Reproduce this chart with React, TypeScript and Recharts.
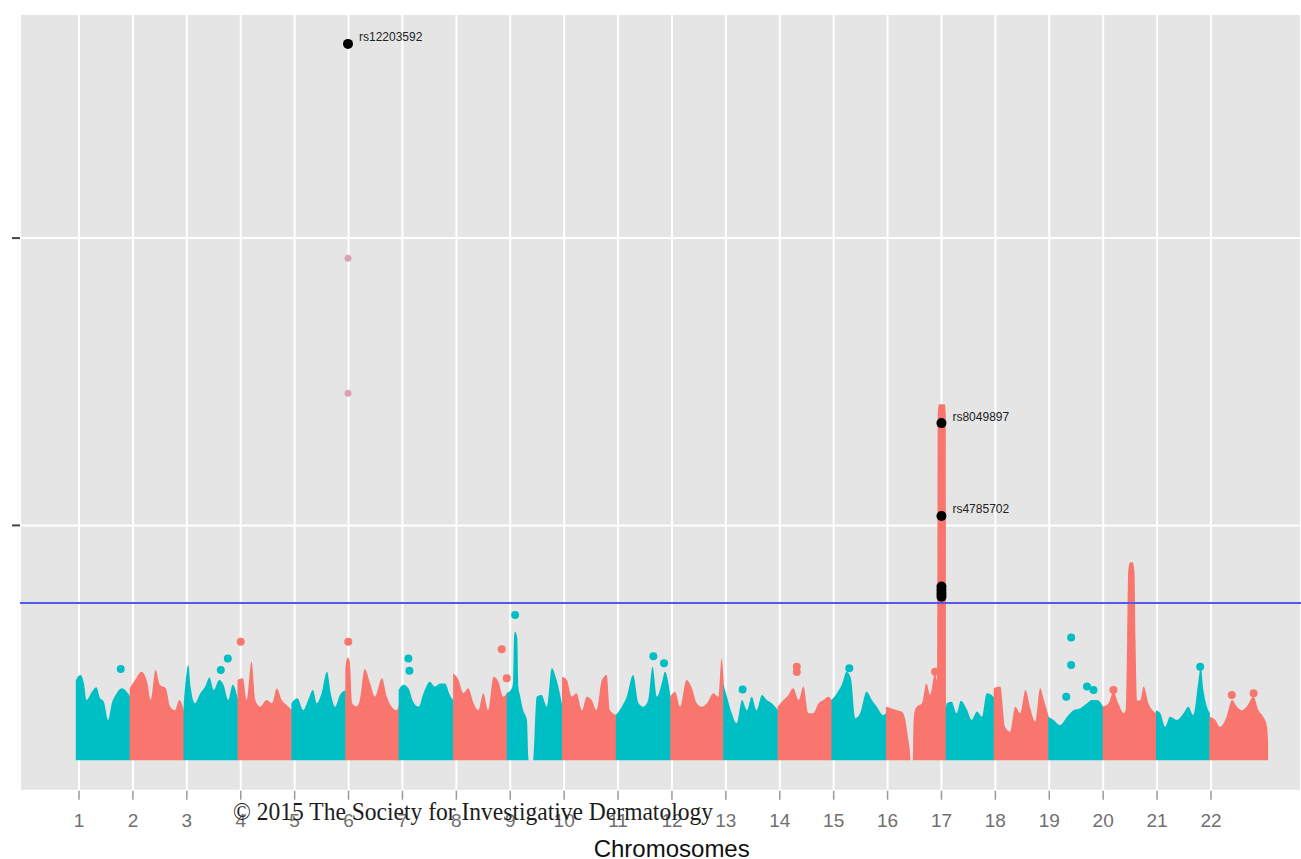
import React from "react";
import {
  ComposedChart,
  CartesianGrid,
  XAxis,
  YAxis,
  Area,
  Scatter,
  ReferenceLine,
} from "recharts";

const TEAL = "#00BFC4";
const RED = "#F8766D";
const SANS = "'Liberation Sans', Arial, sans-serif";
const SERIF = "'Liberation Serif', 'Times New Roman', serif";

const chromTicks = [1, 2, 3, 4, 5, 6, 7, 8, 9, 10, 11, 12, 13, 14, 15, 16, 17, 18, 19, 20, 21, 22];
const yTicks = [10, 20];
const threshold = 7.3; // -log10(5e-8)
const cloudBase = 1.83;

// top edge of the dense SNP cloud: [offset from chromosome tick, -log10(p)]
const chr1 = [[-0.06, 4.6], [-0.04, 4.68], [0.03, 4.79], [0.09, 4.51], [0.14, 3.92], [0.24, 4.21], [0.32, 4.37], [0.39, 3.99], [0.46, 3.86], [0.54, 3.23], [0.61, 3.82], [0.7, 4.16], [0.79, 4.33], [0.885, 4.21], [0.95, 4.04]];
const chr2 = [[-0.06, 4.33], [0.04, 4.62], [0.16, 4.91], [0.27, 4.5], [0.33, 3.92], [0.42, 4.97], [0.5, 4.45], [0.61, 4.33], [0.69, 3.69], [0.78, 3.57], [0.86, 3.92], [0.95, 3.52]];
const chr3 = [[-0.06, 3.69], [0.03, 5.14], [0.07, 4.39], [0.15, 3.81], [0.25, 4.16], [0.34, 4.39], [0.42, 4.71], [0.5, 4.27], [0.6, 4.62], [0.68, 4.45], [0.77, 3.92], [0.85, 4.45], [0.95, 3.92]];
const chr4 = [[-0.06, 4.62], [0.04, 4.68], [0.11, 3.92], [0.2, 5.26], [0.27, 3.92], [0.36, 3.69], [0.48, 3.92], [0.58, 3.81], [0.67, 4.33], [0.76, 3.92], [0.85, 3.75], [0.95, 3.57]];
const chr5 = [[-0.06, 3.81], [0.05, 3.98], [0.16, 3.57], [0.25, 3.92], [0.34, 4.27], [0.41, 3.81], [0.5, 4.16], [0.6, 4.91], [0.67, 4.16], [0.75, 3.69], [0.84, 4.1], [0.95, 4.27]];
const chr6 = [[-0.06, 5.0], [-0.02, 5.4], [0.02, 5.3], [0.07, 3.8], [0.15, 3.7], [0.21, 3.92], [0.3, 5.0], [0.4, 4.5], [0.49, 4.04], [0.62, 4.68], [0.71, 4.04], [0.8, 3.69], [0.89, 3.57], [0.95, 3.9]];
const chr7 = [[-0.07, 4.27], [0.02, 4.45], [0.11, 4.33], [0.2, 3.86], [0.3, 3.69], [0.39, 4.16], [0.51, 4.56], [0.6, 4.39], [0.7, 4.5], [0.79, 4.5], [0.88, 4.1], [0.95, 3.9]];
const chr8 = [[-0.06, 4.85], [0.04, 4.62], [0.13, 4.16], [0.22, 4.33], [0.32, 3.81], [0.41, 3.57], [0.5, 4.16], [0.59, 3.57], [0.69, 4.73], [0.78, 4.56], [0.87, 4.04], [0.95, 4.2]];
const chr9 = [[-0.065, 4.16], [0.03, 4.33], [0.055, 4.6], [0.07, 6.1], [0.09, 6.3], [0.13, 6.1], [0.15, 4.4], [0.18, 4.1], [0.24, 3.57], [0.31, 3.23], [0.335, 1.95], [0.34, 1.83], [0.425, 1.83], [0.43, 1.95], [0.49, 4.04], [0.58, 4.1], [0.68, 3.69], [0.77, 5.03], [0.86, 4.62], [0.97, 3.69]];
const chr10 = [[-0.04, 4.73], [0.05, 4.62], [0.14, 4.04], [0.23, 4.16], [0.33, 3.57], [0.42, 4.04], [0.51, 3.92], [0.6, 3.57], [0.7, 4.62], [0.79, 4.79], [0.85, 3.57], [0.97, 3.4]];
const chr11 = [[-0.04, 3.4], [0.07, 3.69], [0.16, 4.04], [0.28, 4.79], [0.38, 3.81], [0.47, 3.69], [0.56, 3.92], [0.64, 5.08], [0.72, 4.04], [0.81, 4.5], [0.87, 4.91], [0.98, 3.98]];
const chr12 = [[-0.03, 4.04], [0.06, 4.21], [0.15, 3.69], [0.27, 4.62], [0.37, 4.33], [0.46, 3.81], [0.55, 3.69], [0.65, 3.81], [0.77, 4.16], [0.86, 4.04], [0.92, 5.37], [0.96, 4.5]];
const chr13 = [[-0.05, 4.5], [0.02, 4.04], [0.11, 3.46], [0.2, 3.11], [0.3, 3.92], [0.39, 3.57], [0.48, 4.04], [0.57, 3.57], [0.67, 4.1], [0.76, 3.92], [0.85, 3.81], [0.97, 3.57]];
const chr14 = [[-0.04, 3.69], [0.07, 3.92], [0.16, 4.1], [0.25, 4.33], [0.35, 3.92], [0.44, 4.39], [0.53, 3.46], [0.62, 3.46], [0.72, 3.81], [0.81, 3.92], [0.9, 4.04], [0.97, 3.9]];
const chr15 = [[-0.04, 3.92], [0.06, 4.16], [0.15, 4.45], [0.24, 4.91], [0.32, 4.68], [0.4, 3.29], [0.49, 3.46], [0.61, 4.21], [0.71, 3.92], [0.8, 3.69], [0.92, 3.4], [0.98, 3.5]];
const chr16 = [[-0.03, 3.69], [0.08, 3.63], [0.17, 3.57], [0.26, 3.52], [0.33, 3.23], [0.38, 2.6], [0.42, 2.0], [0.425, 1.83], [0.47, 1.83], [0.475, 2.5], [0.49, 3.4], [0.54, 3.69], [0.64, 3.81], [0.72, 4.5], [0.79, 4.1], [0.88, 4.85], [0.92, 4.6], [0.93, 13.9], [0.955, 14.22], [1.06, 14.22], [1.08, 13.9], [1.085, 3.6]];
const chr17 = [[0.08, 3.6], [0.1, 3.81], [0.19, 3.86], [0.28, 3.46], [0.36, 3.9], [0.47, 3.6], [0.56, 3.23], [0.66, 3.52], [0.75, 3.34], [0.84, 4.16], [0.93, 4.1], [0.98, 4.0]];
const chr18 = [[-0.03, 4.33], [0.09, 4.39], [0.18, 2.99], [0.27, 2.82], [0.37, 3.69], [0.46, 3.46], [0.56, 4.27], [0.64, 3.69], [0.74, 3.17], [0.83, 4.33], [0.9, 3.92], [0.99, 3.34]];
const chr19 = [[-0.02, 3.34], [0.08, 3.23], [0.2, 3.05], [0.33, 3.34], [0.45, 3.57], [0.57, 3.63], [0.7, 3.81], [0.79, 3.92], [0.89, 3.92], [1.0, 3.69]];
const chr20 = [[-0.01, 3.69], [0.1, 3.81], [0.19, 4.21], [0.28, 3.81], [0.38, 3.46], [0.42, 3.6], [0.445, 6.0], [0.465, 8.4], [0.5, 8.72], [0.545, 8.72], [0.58, 8.4], [0.6, 6.0], [0.63, 3.9], [0.69, 3.92], [0.75, 4.39], [0.84, 3.81], [0.99, 3.46]];
const chr21 = [[-0.02, 3.57], [0.06, 3.46], [0.15, 2.99], [0.24, 3.34], [0.37, 3.23], [0.49, 3.46], [0.58, 3.69], [0.67, 3.4], [0.77, 4.62], [0.81, 5.08], [0.86, 4.27], [0.98, 3.46]];
const chr22 = [[-0.03, 3.34], [0.08, 3.23], [0.17, 2.99], [0.29, 3.34], [0.39, 3.92], [0.48, 3.69], [0.57, 3.57], [0.66, 3.69], [0.79, 4.04], [0.88, 3.57], [0.97, 3.34], [1.04, 2.99], [1.06, 2.5]];

const clouds = [chr1, chr2, chr3, chr4, chr5, chr6, chr7, chr8, chr9, chr10, chr11, chr12, chr13, chr14, chr15, chr16, chr17, chr18, chr19, chr20, chr21, chr22];

// single SNPs standing above the clouds: [position, -log10(p)]
const tealSnps = [[1.774, 5.0], [3.63, 4.97], [3.76, 5.37], [7.11, 5.37], [7.13, 4.94], [9.09, 6.88], [11.655, 5.45], [11.853, 5.2], [13.31, 4.29], [15.29, 5.03], [19.406, 6.1], [19.406, 5.14], [19.315, 4.04], [19.7, 4.39], [19.82, 4.27], [21.8, 5.08]];
const redSnps = [[4.0, 5.95], [5.995, 5.95], [8.842, 5.69], [8.935, 4.68], [14.316, 5.08], [14.316, 4.9], [16.882, 4.91], [20.19, 4.27], [22.386, 4.1], [22.79, 4.16]];
const fadedSnps = [[5.99, 19.3], [5.99, 14.6]];
const leadSnps = [
  { x: 5.99, v: 26.76, label: "rs12203592" },
  { x: 17.0, v: 13.56, label: "rs8049897" },
  { x: 17.0, v: 10.33, label: "rs4785702" },
  { x: 17.0, v: 7.87, label: "" },
  { x: 17.0, v: 7.75, label: "" },
  { x: 17.0, v: 7.63, label: "" },
  { x: 17.0, v: 7.52, label: "" },
];

const toPoints = (pairs: number[][]) => pairs.map(([x, v]) => ({ x, v }));

const dot = (r: number, fill: string) => (p: any) => (
  <circle cx={p.cx} cy={p.cy} r={r} fill={fill} />
);

const leadDot = (p: any) => (
  <g>
    <circle cx={p.cx} cy={p.cy} r={5} fill="#000" />
    {p.payload && p.payload.label ? (
      <text x={p.cx + 11} y={p.cy - 2.5} fontSize={12} fontFamily={SANS} fill="#222">
        {p.payload.label}
      </text>
    ) : null}
  </g>
);

const noTick = () => <g />;

const App = () => {
  return (
    <div
      style={{
        position: "absolute",
        left: 0,
        top: 0,
        width: 1301,
        height: 859,
        background: "#fff",
        overflow: "hidden",
      }}>
      <ComposedChart
        width={1301}
        height={859}
        margin={{ top: 14, right: 0, bottom: 23.3, left: 0 }}>
        <CartesianGrid fill="#E5E5E5" fillOpacity={1} stroke="#fff" strokeWidth={2} />
        <XAxis
          type="number"
          dataKey="x"
          domain={[-0.095, 23.67]}
          allowDataOverflow
          ticks={chromTicks}
          interval={0}
          height={45}
          axisLine={false}
          tickSize={9}
          tickMargin={14}
          tickLine={{ stroke: "#9a9a9a", strokeWidth: 1.5 }}
          tick={{ fill: "#707070", fontSize: 19, fontFamily: SANS }}
        />
        <YAxis
          type="number"
          dataKey="v"
          domain={[0.766, 27.8]}
          allowDataOverflow
          ticks={yTicks}
          width={20}
          axisLine={false}
          tickSize={8}
          tickLine={{ stroke: "#444", strokeWidth: 2 }}
          tick={noTick}
        />
        {clouds.map((pairs, i) => (
          <Area
            key={"chr" + (i + 1)}
            data={pairs.map(([f, v]) => ({ x: i + 1 + f, v }))}
            dataKey="v"
            type="monotone"
            baseValue={cloudBase}
            stroke="none"
            fill={i % 2 === 0 ? TEAL : RED}
            fillOpacity={1}
            dot={false}
            activeDot={false}
            isAnimationActive={false}
          />
        ))}
        <Scatter data={toPoints(fadedSnps)} shape={dot(3.5, "#D9A3B2")} isAnimationActive={false} />
        <Scatter data={toPoints(tealSnps)} shape={dot(4, TEAL)} isAnimationActive={false} />
        <Scatter data={toPoints(redSnps)} shape={dot(4, RED)} isAnimationActive={false} />
        <Scatter data={leadSnps} shape={leadDot} isAnimationActive={false} />
        <ReferenceLine y={threshold} stroke="#5757EE" strokeWidth={2} />
      </ComposedChart>
      <svg
        width={1301}
        height={859}
        style={{ position: "absolute", left: 0, top: 0, pointerEvents: "none" }}>
        <text
          x={233}
          y={819.5}
          fontSize={25}
          fontFamily={SERIF}
          fill="#1c1c1c"
          textLength={480}
          lengthAdjust="spacingAndGlyphs">
          © 2015 The Society for Investigative Dermatology
        </text>
        <text x={671.7} y={856.5} fontSize={24} fontFamily={SANS} fill="#111" textAnchor="middle">
          Chromosomes
        </text>
      </svg>
    </div>
  );
};

export default App;
